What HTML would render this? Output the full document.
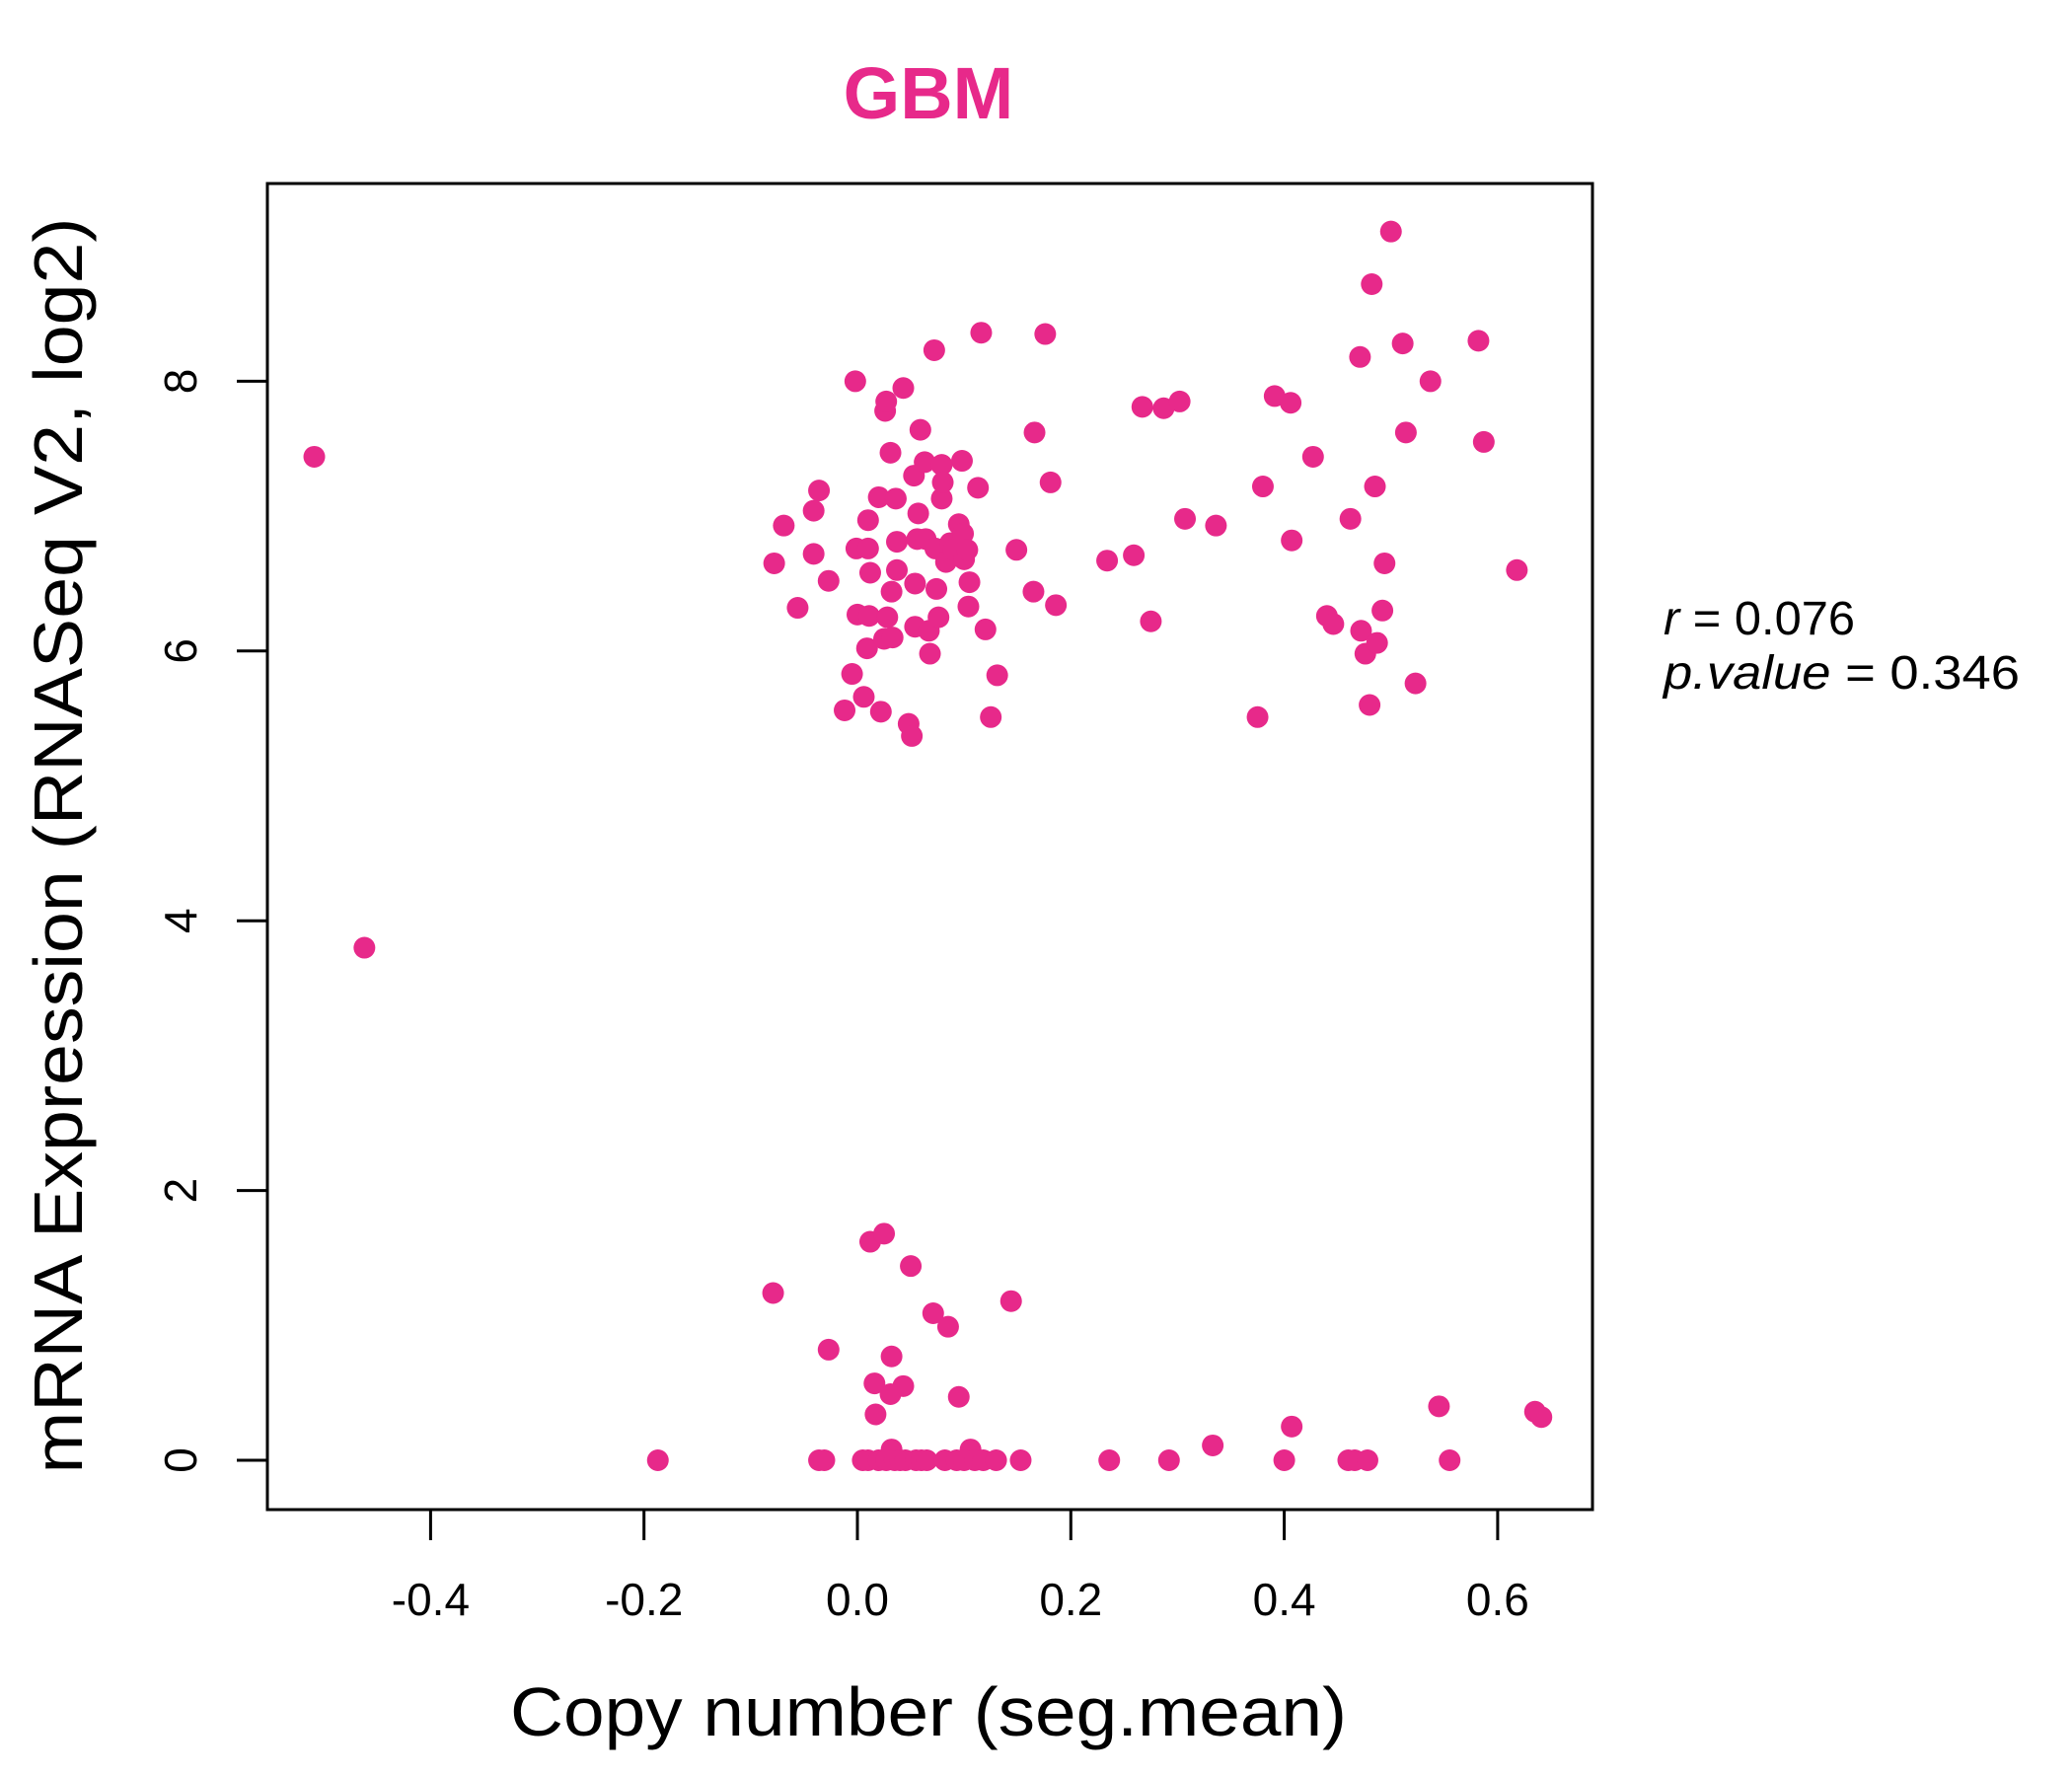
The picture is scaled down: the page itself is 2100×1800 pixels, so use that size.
<!DOCTYPE html>
<html><head><meta charset="utf-8"><style>
html,body{margin:0;padding:0;background:#fff;}
svg{display:block;font-family:"Liberation Sans",sans-serif;}
</style></head><body>
<svg id="chart" width="2100" height="1800" viewBox="0 0 2100 1800" xmlns="http://www.w3.org/2000/svg">
<rect x="0" y="0" width="2100" height="1800" fill="#fff"/>
<text x="941" y="120" text-anchor="middle" font-size="74" font-weight="bold" fill="#E7298A">GBM</text>
<rect x="271" y="186" width="1343" height="1344" fill="none" stroke="#000" stroke-width="3"/>
<g id="xaxis"></g>
<g id="yaxis"></g>
<g id="points"></g>
<text x="941" y="1759" text-anchor="middle" font-size="70" textLength="848" lengthAdjust="spacingAndGlyphs">Copy number (seg.mean)</text>
<text transform="translate(83,857) rotate(-90)" text-anchor="middle" font-size="70" textLength="1273" lengthAdjust="spacingAndGlyphs">mRNA Expression (RNASeq V2, log2)</text>
<text x="1686" y="643" font-size="48" textLength="194" lengthAdjust="spacingAndGlyphs"><tspan font-style="italic">r</tspan> = 0.076</text>
<text x="1686" y="698" font-size="48" textLength="361" lengthAdjust="spacingAndGlyphs"><tspan font-style="italic">p.value</tspan> = 0.346</text>
</svg>
<script>
const xTicks = [-0.4, -0.2, 0.0, 0.2, 0.4, 0.6];
const xTickLabels = ["-0.4", "-0.2", "0.0", "0.2", "0.4", "0.6"];
const yTicks = [0, 2, 4, 6, 8];
const yTickLabels = ["0", "2", "4", "6", "8"];
const copyNumber = [-0.509,-0.462,-0.187,-0.079,-0.027,-0.036,-0.031,-0.078,-0.069,-0.056,-0.041,-0.036,-0.041,-0.027,-0.012,-0.005,-0.002,-0.001,0,0.006,0.009,0.01,0.01,0.011,0.012,0.022,0.02,0.025,0.026,0.027,0.028,0.031,0.032,0.033,0.036,0.037,0.037,0.043,0.048,0.051,0.053,0.054,0.054,0.056,0.057,0.059,0.063,0.064,0.067,0.068,0.072,0.073,0.074,0.076,0.079,0.079,0.080,0.083,0.087,0.090,0.095,0.098,0.099,0.100,0.103,0.104,0.105,0.113,0.116,0.120,0.125,0.131,0.149,0.165,0.166,0.176,0.181,0.186,0.234,0.259,0.267,0.275,0.287,0.302,0.307,0.336,0.375,0.380,0.391,0.406,0.407,0.427,0.440,0.446,0.462,0.471,0.472,0.476,0.480,0.482,0.485,0.487,0.492,0.494,0.500,0.511,0.514,0.523,0.537,0.582,0.587,0.618,
0.012,0.025,0.050,0.071,0.085,0.144,0.032,0.016,0.043,0.031,0.017,0.095,0.032,0.106,0.333,0.407,0.545,0.635,0.641,
0.005,0.01,0.02,0.027,0.035,0.04,0.045,0.055,0.06,0.065,0.082,0.093,0.1,0.11,0.118,0.13,0.153,0.236,0.292,0.4,0.46,0.466,0.478,0.555];
const expression = [7.44,3.80,0,1.24,0.82,0,0,6.65,6.93,6.32,7.04,7.19,6.72,6.52,5.56,5.83,8.0,6.76,6.27,5.66,6.02,6.97,6.76,6.26,6.58,5.55,7.14,6.09,7.78,7.85,6.25,7.47,6.44,6.10,7.13,6.81,6.60,7.95,5.46,5.37,7.30,6.50,6.18,6.83,7.02,7.64,7.40,6.83,6.15,5.98,8.23,6.76,6.46,6.25,7.13,7.38,7.25,6.66,6.80,6.75,6.94,7.41,6.87,6.68,6.75,6.33,6.51,7.21,8.36,6.16,5.51,5.82,6.75,6.44,7.62,8.35,7.25,6.34,6.67,6.71,7.81,6.22,7.80,7.85,6.98,6.93,5.51,7.22,7.89,7.84,6.82,7.44,6.26,6.20,6.98,8.18,6.15,5.98,5.60,8.72,7.22,6.06,6.30,6.65,9.11,8.28,7.62,5.76,8.0,8.30,7.55,6.60,
1.62,1.68,1.44,1.09,0.99,1.18,0.77,0.57,0.55,0.49,0.34,0.47,0.08,0.08,0.11,0.25,0.40,0.36,0.32,
0,0,0,0,0,0,0,0,0,0,0,0,0,0,0,0,0,0,0,0,0,0,0,0];
const NS = "http://www.w3.org/2000/svg";
const sx = v => 869 + v * 1081.5;
const sy = v => 1480 - v * 136.7;
const xg = document.getElementById('xaxis');
xTicks.forEach((t, i) => {
  const l = document.createElementNS(NS, 'line');
  l.setAttribute('x1', sx(t)); l.setAttribute('x2', sx(t));
  l.setAttribute('y1', 1530); l.setAttribute('y2', 1561);
  l.setAttribute('stroke', '#000'); l.setAttribute('stroke-width', 3);
  
  
  xg.appendChild(l);
  const tx = document.createElementNS(NS, 'text');
  tx.setAttribute('x', sx(t)); tx.setAttribute('y', 1637);
  tx.setAttribute('text-anchor', 'middle'); tx.setAttribute('font-size', 46);
  tx.textContent = xTickLabels[i];
  
  
  xg.appendChild(tx);
});
const yg = document.getElementById('yaxis');
yTicks.forEach((t, i) => {
  const l = document.createElementNS(NS, 'line');
  l.setAttribute('x1', 240); l.setAttribute('x2', 271);
  l.setAttribute('y1', sy(t)); l.setAttribute('y2', sy(t));
  l.setAttribute('stroke', '#000'); l.setAttribute('stroke-width', 3);
  
  
  yg.appendChild(l);
  const tx = document.createElementNS(NS, 'text');
  tx.setAttribute('transform', 'translate(199,' + sy(t) + ') rotate(-90)');
  tx.setAttribute('text-anchor', 'middle'); tx.setAttribute('font-size', 46);
  tx.textContent = yTickLabels[i];
  
  
  yg.appendChild(tx);
});
const pg = document.getElementById('points');
copyNumber.forEach((v, i) => {
  const c = document.createElementNS(NS, 'circle');
  c.setAttribute('cx', sx(v)); c.setAttribute('cy', sy(expression[i]));
  c.setAttribute('r', 11); c.setAttribute('fill', '#E7298A');
  
  
  pg.appendChild(c);
});
</script>
</body></html>
